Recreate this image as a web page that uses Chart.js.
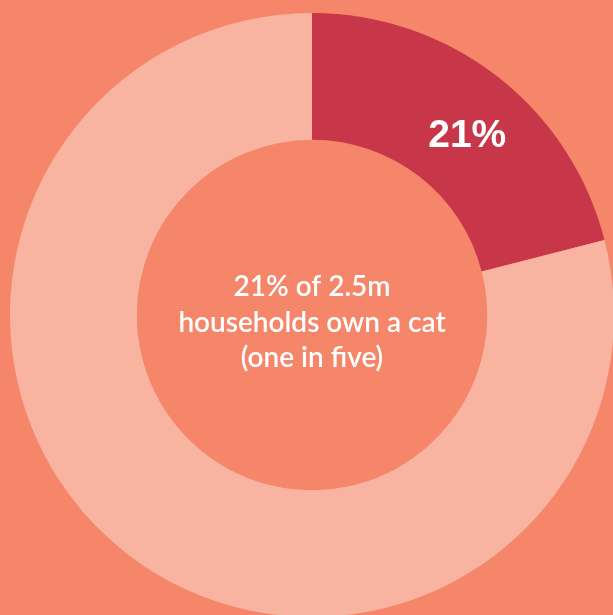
<!DOCTYPE html>
<html lang="en">
<head>
  <meta charset="UTF-8" />
  <script src="https://cdn.jsdelivr.net/npm/chart.js"></script>
  <title>Cat ownership</title>
  <style>
    html, body { margin: 0; padding: 0; overflow: hidden; background: #F5866A; }
    #wrap { position: absolute; left: 0; top: 0; width: 630px; height: 630px; }
  </style>
</head>
<body>
  <div id="wrap"><canvas id="catChart" width="630" height="630"></canvas></div>
  <script>
    const categories = ['Own a cat', 'Do not own a cat'];
    const shares = [21, 79];
    const sliceLabels = ['21%', ''];
    const centerLines = ['21% of 2.5m', 'households own a cat', '(one in five)'];

    const textPlugin = {
      id: 'textPlugin',
      afterDatasetsDraw(chart) {
        const ctx = chart.ctx;
        const arcs = chart.getDatasetMeta(0).data;
        ctx.save();
        ctx.fillStyle = '#ffffff';
        ctx.textAlign = 'center';
        ctx.textBaseline = 'middle';
        ctx.font = 'bold 39px "Liberation Sans", Arial, sans-serif';
        arcs.forEach((arc, i) => {
          if (!sliceLabels[i]) return;
          const p = arc.tooltipPosition();
          ctx.fillText(sliceLabels[i], p.x + 9, p.y + 10);
        });
        const c = arcs[0];
        ctx.font = '600 28px Lato, sans-serif';
        centerLines.forEach((line, i) => {
          ctx.fillText(line, c.x, c.y - 28 + i * 35.5);
        });
        ctx.restore();
      }
    };

    new Chart(document.getElementById('catChart'), {
      type: 'doughnut',
      data: {
        labels: categories,
        datasets: [{
          data: shares,
          backgroundColor: ['#C8364A', '#F8B4A0'],
          borderWidth: 0
        }]
      },
      options: {
        responsive: false,
        animation: false,
        cutout: '58%',
        layout: { padding: { left: 10, top: 13, right: 16, bottom: 13 } },
        plugins: { legend: { display: false }, tooltip: { enabled: false } }
      },
      plugins: [textPlugin]
    });
  </script>
</body>
</html>
